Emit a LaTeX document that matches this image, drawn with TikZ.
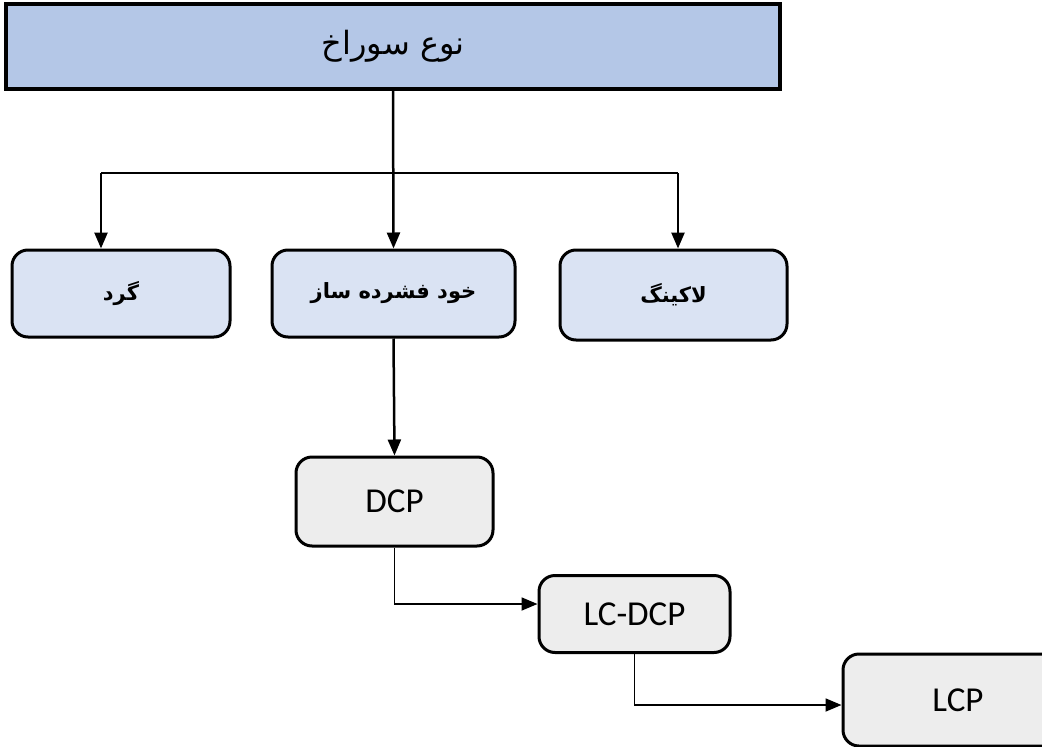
\documentclass[tikz,border=0pt]{standalone}
\usepackage{fontspec}
\setmainfont{Carlito}
\newfontfamily\arabicfont[Script=Arabic]{DejaVu Sans}
\TeXXeTstate=1
\usetikzlibrary{arrows.meta,calc}
\definecolor{topfill}{HTML}{B4C7E7}
\definecolor{midfill}{HTML}{DAE3F3}
\definecolor{lowfill}{HTML}{EDEDED}
\tikzset{
  topbox/.style={draw=black, line width=3.5pt, fill=topfill, inner sep=0pt},
  midbox/.style={draw=black, line width=3pt, fill=midfill, rounded corners=16pt, inner sep=0pt},
  lowbox/.style={draw=black, line width=3pt, fill=lowfill, rounded corners=16pt, inner sep=0pt, font=\fontsize{35}{42}\selectfont},
  arr/.style={line width=2.5pt, -{Triangle[length=16pt,width=13pt]}},
  thin/.style={line width=1.2pt},
  elbow/.style={line width=1.8pt, -{Triangle[length=16pt,width=13pt]}}
}
\begin{document}
\begin{tikzpicture}[x=1pt,y=-1pt]
\useasboundingbox (0,0) rectangle (1042,747);
\clip (0,0) rectangle (1042,747);
\node[topbox, minimum width=774pt, minimum height=85pt] (top) at (393,46.5)
  {\fontsize{32}{38}\selectfont\arabicfont\beginR نوع سوراخ\endR};
\node[midbox, minimum width=218pt, minimum height=87pt] (gerd) at (121,293.5)
  {\fontsize{21}{26}\selectfont\arabicfont\bfseries\beginR گرد\endR};
\node[midbox, minimum width=243pt, minimum height=87pt] (khod) at (393.5,293.5)
  {\fontsize{21}{26}\selectfont\arabicfont\bfseries\beginR خود فشرده ساز\endR};
\node[midbox, minimum width=227pt, minimum height=90pt] (lock) at (673.5,295)
  {\fontsize{21}{26}\selectfont\arabicfont\bfseries\beginR لاکینگ\endR};
\node[lowbox, minimum width=197pt, minimum height=89pt] (dcp) at (394.5,501.5) {DCP};
\node[lowbox, minimum width=191pt, minimum height=77pt] (lcdcp) at (634.5,614) {LC-DCP};
\node[lowbox, minimum width=230pt, minimum height=92pt] (lcp) at (958,700) {LCP};
\coordinate (hl) at (101,173);
\coordinate (hr) at (678,173);
\draw[thin] (hl) -- (hr);
\draw[arr] (top.south) -- (khod.north);
\draw[arr] (hl) -- (hl |- gerd.north);
\draw[arr] (hr) -- (hr |- lock.north);
\draw[arr] (khod.south) -- (dcp.north);
\draw[elbow] (dcp.south) |- ([yshift=10pt]lcdcp.west);
\draw[elbow] (lcdcp.south) |- ([yshift=-5pt]lcp.west);
\end{tikzpicture}
\end{document}
